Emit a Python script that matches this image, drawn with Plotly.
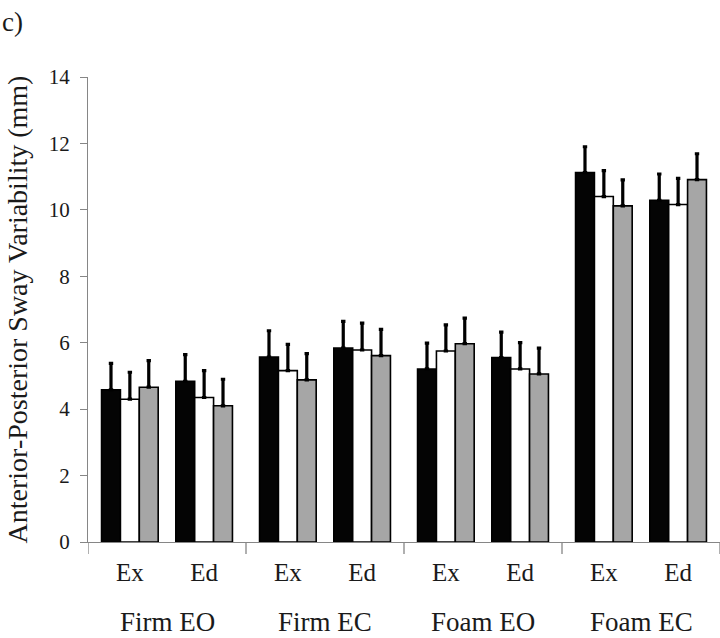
import plotly.graph_objects as go

# ---- data ----
groups = ["Firm EO", "Firm EC", "Foam EO", "Foam EC"]
subgroups = ["Ex", "Ed"]
series_names = ["Condition 1", "Condition 2", "Condition 3"]

means_1 = [4.58, 4.84, 5.57, 5.84, 5.21, 5.55, 11.12, 10.29]
means_2 = [4.30, 4.35, 5.16, 5.78, 5.75, 5.21, 10.40, 10.16]
means_3 = [4.66, 4.10, 4.88, 5.61, 5.97, 5.06, 10.12, 10.91]

err_1 = [0.80, 0.80, 0.79, 0.80, 0.78, 0.77, 0.78, 0.79]
err_2 = [0.81, 0.81, 0.79, 0.81, 0.79, 0.79, 0.78, 0.79]
err_3 = [0.80, 0.80, 0.79, 0.79, 0.77, 0.78, 0.78, 0.78]

y_ticks = [0, 2, 4, 6, 8, 10, 12, 14]
y_title = "Anterior-Posterior Sway Variability (mm)"
panel_label = "c)"

# ---- styling ----
fills = ["#040404", "#FFFFFF", "#A6A6A6"]
FONT = "Liberation Serif, Times New Roman, serif"
AX = "#868686"
TXT = "#1a1a1a"

# category positions (Ex slightly right, Ed slightly left, as in the source)
xpos, xlab = [], []
for gi, g in enumerate(groups):
    for si, s in enumerate(subgroups):
        xpos.append(gi * 2 + si + (0.03 if si == 0 else -0.03))
        xlab.append(s)

bar_w = 0.239
means = [means_1, means_2, means_3]
errs = [err_1, err_2, err_3]

fig = go.Figure()
for i, name in enumerate(series_names):
    fig.add_trace(go.Bar(
        name=name, x=xpos, y=means[i],
        width=bar_w, offset=-1.5 * bar_w + i * bar_w,
        marker=dict(color=fills[i], line=dict(color="#000000", width=1.6)),
        error_y=dict(type="data", symmetric=False, array=errs[i],
                     arrayminus=[0] * len(errs[i]),
                     color="#000000", thickness=3.2, width=2.2),
        showlegend=False,
    ))

n_cat = len(xpos)
plot_h = 465

shapes = []
for k in range(len(groups) + 1):
    xb = -0.5 + 2 * k
    shapes.append(dict(type="line", xref="x", yref="paper",
                       x0=xb, x1=xb, y0=0, y1=-12 / plot_h,
                       line=dict(color=AX, width=1.3)))

annotations = []
for gi, g in enumerate(groups):
    annotations.append(dict(text=g, xref="x", yref="paper",
                            x=gi * 2 + 0.5, y=-80 / plot_h,
                            xanchor="center", yanchor="middle",
                            showarrow=False,
                            font=dict(family=FONT, size=27, color=TXT)))
annotations.append(dict(text=panel_label, xref="paper", yref="paper",
                        x=-88 / 632, y=(542 - 22) / plot_h,
                        xanchor="left", yanchor="middle", showarrow=False,
                        font=dict(family=FONT, size=27, color=TXT)))

fig.update_layout(
    width=720, height=638,
    margin=dict(l=88, r=0, t=77, b=96, autoexpand=False),
    paper_bgcolor="white", plot_bgcolor="white",
    barmode="overlay",
    shapes=shapes, annotations=annotations,
    font=dict(family=FONT, color=TXT),
)
fig.update_xaxes(
    range=[-0.5, n_cat - 0.5],
    tickmode="array", tickvals=xpos, ticktext=xlab,
    ticks="", showgrid=False, zeroline=False,
    showline=True, linecolor=AX, linewidth=1.3,
    tickfont=dict(family=FONT, size=25, color=TXT),
    ticklabelstandoff=8,
)
fig.update_yaxes(
    range=[0, 14], tickmode="array", tickvals=y_ticks,
    ticks="outside", ticklen=7, tickcolor=AX, tickwidth=1.3,
    showgrid=False, zeroline=False,
    showline=True, linecolor=AX, linewidth=1.3,
    tickfont=dict(family=FONT, size=21, color=TXT),
    ticklabelstandoff=6,
    title=dict(text=y_title, font=dict(family=FONT, size=28, color=TXT),
               standoff=12),
)

fig.write_html("out.html",
               config={"displayModeBar": False},
               post_script="document.body.style.margin='0';"
                           "document.body.style.padding='0';"
                           "document.body.style.overflow='hidden';")
